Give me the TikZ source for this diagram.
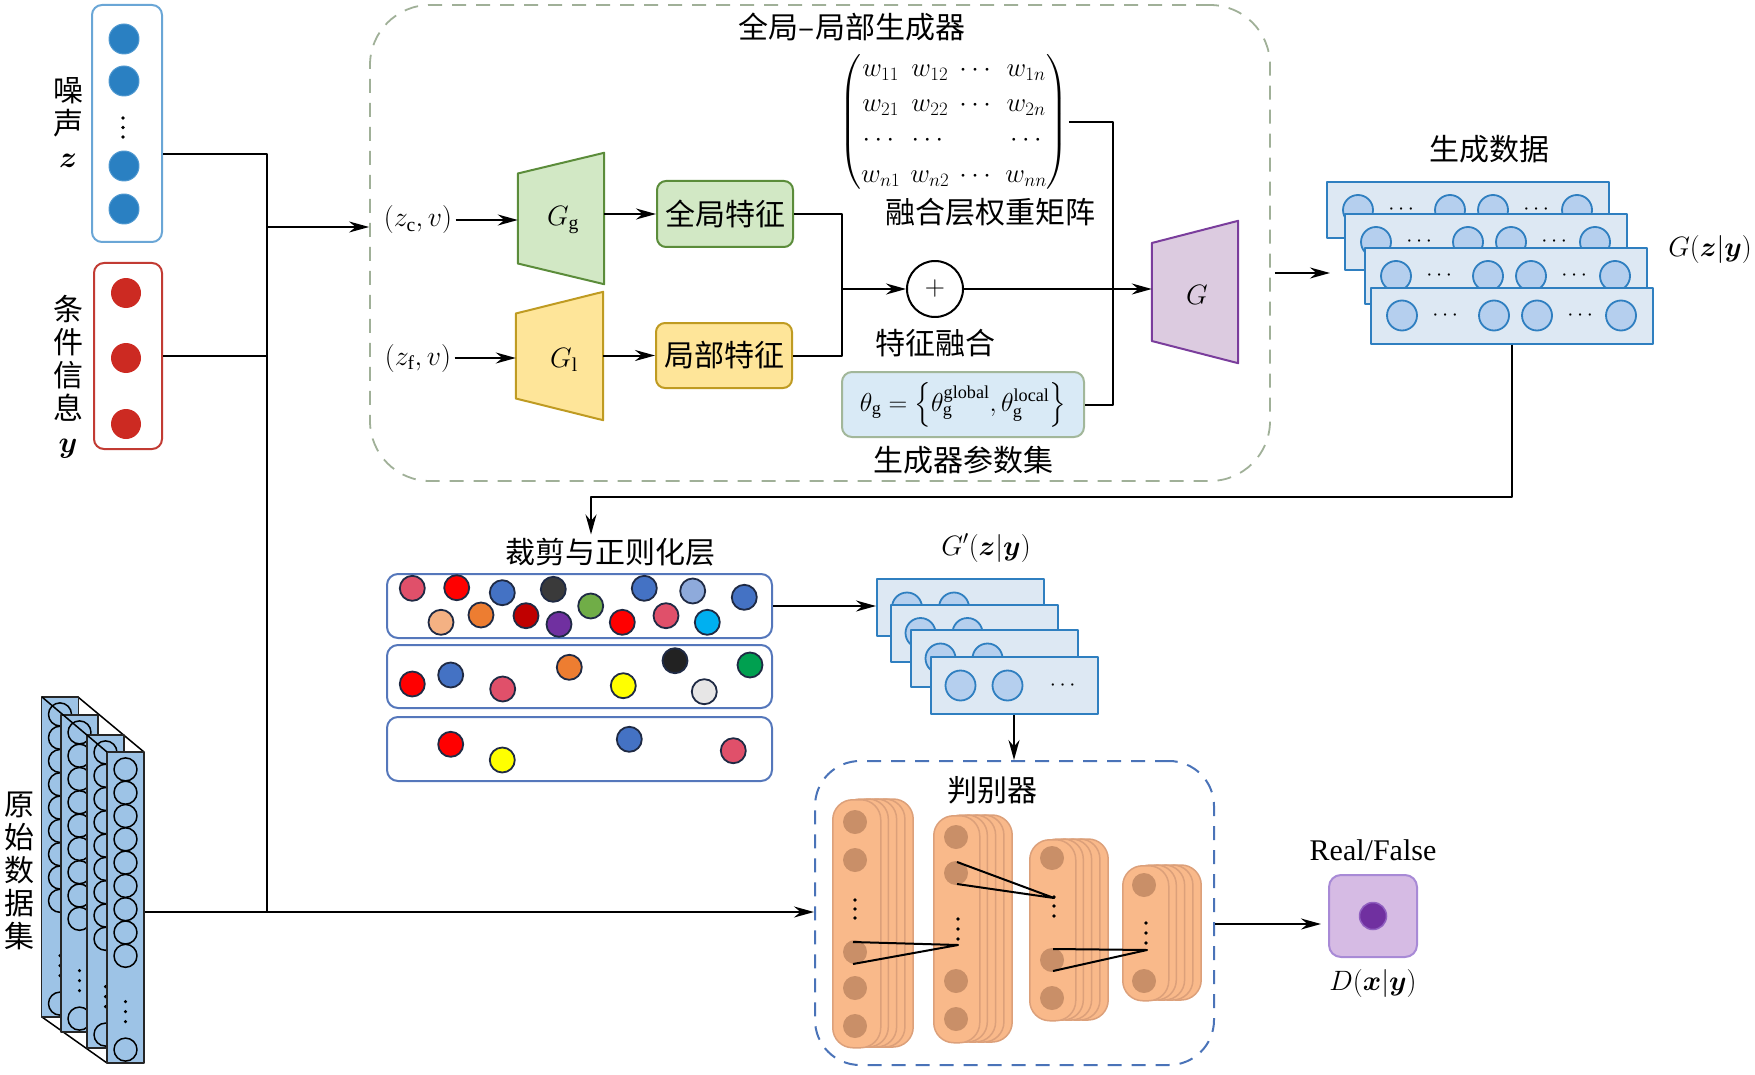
\RequirePackage{fix-cm}
\documentclass[tikz,border=0pt]{standalone}
\usepackage{amsmath,bm}
\usepackage{fontspec}
\setmainfont{Liberation Serif}
\newfontfamily\cjk{Noto Sans CJK SC}
\usetikzlibrary{arrows.meta,calc}
\definecolor{nblue}{HTML}{6AA6D6}
\definecolor{ncfill}{HTML}{2A80C2}
\definecolor{ncdraw}{HTML}{4F98D0}
\definecolor{credb}{HTML}{C23B33}
\definecolor{ccfill}{HTML}{CC2A22}
\definecolor{dfill}{HTML}{9DC3E6}
\definecolor{ggfill}{HTML}{D2E8C5}
\definecolor{ggdraw}{HTML}{5B8C3A}
\definecolor{glfill}{HTML}{FEE599}
\definecolor{gldraw}{HTML}{BF9B22}
\definecolor{gfill}{HTML}{DCCBE0}
\definecolor{gdraw}{HTML}{7A3D9C}
\definecolor{thfill}{HTML}{D9EAF6}
\definecolor{thdraw}{HTML}{A2B79A}
\definecolor{gendash}{HTML}{A0B098}
\definecolor{sfill}{HTML}{DDE8F3}
\definecolor{sdraw}{HTML}{2F7FC0}
\definecolor{scfill}{HTML}{B5CFEE}
\definecolor{clipb}{HTML}{5577BB}
\definecolor{cnavy}{HTML}{1F2A44}
\definecolor{ofill}{HTML}{F9B98A}
\definecolor{odraw}{HTML}{DCA07A}
\definecolor{ocfill}{HTML}{C98F68}
\definecolor{discd}{HTML}{4A73B8}
\definecolor{dbfill}{HTML}{D6BBE4}
\definecolor{dbdraw}{HTML}{A88AD6}
\definecolor{dpurple}{HTML}{7030A0}
\definecolor{dpurple2}{HTML}{9060C0}
\definecolor{cpink}{HTML}{E0506A}
\definecolor{cred}{HTML}{FF0000}
\definecolor{cblue}{HTML}{4472C4}
\definecolor{cdark}{HTML}{3A3A3A}
\definecolor{clblue}{HTML}{8EAADB}
\definecolor{cpeach}{HTML}{F4B183}
\definecolor{corange}{HTML}{ED7D31}
\definecolor{cdred}{HTML}{C00000}
\definecolor{cpurple}{HTML}{7030A0}
\definecolor{cgreen}{HTML}{70AD47}
\definecolor{ccyan}{HTML}{00B0F0}
\definecolor{cyellow}{HTML}{FFFF00}
\definecolor{cblack}{HTML}{222222}
\definecolor{clgray}{HTML}{E7E6E6}
\definecolor{cgreentwo}{HTML}{00A050}
\newcommand{\srow}[3]{%
  \node[srect] (#1) at (#2,#3) {};
  \foreach \dx in {32,124,167,251} \node[scirc] at ($(#1.west)+(\dx,0)$) {};
  \foreach \dx in {77,212} \node[dotsf] at ($(#1.west)+(\dx,0)$) {$\cdots$};}
\newcommand{\grow}[3]{%
  \node[grect] (#1) at (#2,#3) {};
  \foreach \dx in {31,78} \node[scirc] at ($(#1.west)+(\dx,0)$) {};
  \node[dotsf] at ($(#1.west)+(135,0)$) {$\cdots$};}
\newcommand{\dlayer}[5]{%
  \foreach \k in {4,3,2,1} \draw[orect] (#2+8.3*\k,#3) rectangle ++(#4,#5);
  \node[orect, minimum width=#4pt, minimum height=#5pt, anchor=north west] (#1) at (#2,#3) {};}
\begin{document}
\begin{tikzpicture}[x=1pt,y=-1pt,line join=round,
  arr/.style={line width=2pt,-{Stealth[length=20pt,width=11pt]}},
  ln/.style={line width=2pt},
  cjkf/.style={font=\cjk\fontsize{30}{33}\selectfont},
  mathf/.style={font=\fontsize{28}{30}\selectfont},
  dotsf/.style={font=\fontsize{22}{24}\selectfont,inner sep=0},
  noisebox/.style={draw=nblue,line width=2pt,rounded corners=10pt,inner sep=0},
  ncirc/.style={circle,fill=ncfill,draw=ncdraw,line width=1pt,minimum size=30pt,inner sep=0},
  condbox/.style={draw=credb,line width=2pt,rounded corners=10pt,inner sep=0},
  ccirc/.style={circle,fill=ccfill,minimum size=30pt,inner sep=0},
  drect/.style={rectangle,fill=dfill,draw=black!85,line width=1.2pt,minimum width=37pt,inner sep=0},
  dcirc/.style={circle,draw=black,line width=1.5pt,minimum size=23pt,inner sep=0},
  trapbox/.style={inner sep=0},
  trapg/.style={fill=ggfill,draw=ggdraw,line width=2pt},
  trapl/.style={fill=glfill,draw=gldraw,line width=2pt},
  trapG/.style={fill=gfill,draw=gdraw,line width=2pt},
  gfbox/.style={rounded corners=9pt,fill=ggfill,draw=ggdraw,line width=2pt,inner sep=0,cjkf},
  lfbox/.style={rounded corners=9pt,fill=glfill,draw=gldraw,line width=2pt,inner sep=0,cjkf},
  thbox/.style={rounded corners=10pt,fill=thfill,draw=thdraw,line width=2pt,inner sep=0},
  genbox/.style={draw=gendash,line width=1.8pt,dash pattern=on 14pt off 10pt,rounded corners=60pt},
  srect/.style={rectangle,fill=sfill,draw=sdraw,line width=2pt,minimum width=282pt,minimum height=56pt,inner sep=0},
  grect/.style={rectangle,fill=sfill,draw=sdraw,line width=2pt,minimum width=167pt,minimum height=57pt,inner sep=0},
  scirc/.style={circle,fill=scfill,draw=sdraw,line width=1.8pt,minimum size=30pt,inner sep=0},
  clipbox/.style={rounded corners=11pt,draw=clipb,line width=2pt,minimum width=385pt,minimum height=64pt,inner sep=0},
  ccol/.style={circle,draw=cnavy,line width=1.8pt,minimum size=25pt,inner sep=0},
  orect/.style={fill=ofill,draw=odraw,line width=1.5pt,rounded corners=20pt,inner sep=0},
  ocirc/.style={circle,fill=ocfill,minimum size=24pt,inner sep=0},
  discbox/.style={draw=discd,line width=2pt,dash pattern=on 14pt off 10pt,rounded corners=45pt},
  dbox/.style={fill=dbfill,draw=dbdraw,line width=2pt,rounded corners=12pt,inner sep=0}
]
\useasboundingbox (0,0) rectangle (1755,1075);

% ---------- generator frame ----------
\node[genbox, minimum width=900pt, minimum height=476pt] (gen) at (820,243) {};
\node[cjkf, inner sep=1pt] (gentitle) at (852,27) {全局–局部生成器};

% ---------- noise ----------
\node[noisebox, minimum width=70pt, minimum height=237pt] (noise) at (127,123.5) {};
\foreach \y [count=\i] in {39,81,166,209} \node[ncirc] (nc\i) at (124,\y) {};
\foreach \y in {118,127.5,137} \fill (123,\y) circle[radius=1.8pt];
\node[cjkf, align=center] (noiselab) at (68,123) {噪\\声\\$\bm z$};

% ---------- condition ----------
\node[condbox, minimum width=68pt, minimum height=186pt] (cond) at (128,356) {};
\foreach \y [count=\i] in {293,358,424} \node[ccirc] (cc\i) at (126,\y) {};
\node[cjkf, align=center] (condlab) at (68,377) {条\\件\\信\\息\\$\bm y$};

% ---------- dataset ----------
\coordinate (d1nw) at (42,697); \coordinate (d1ne) at (78,697);
\coordinate (d1sw) at (42,1017); \coordinate (d1se) at (78,1017);
\coordinate (d4nw) at (107,752); \coordinate (d4ne) at (144,752);
\coordinate (d4sw) at (107,1063); \coordinate (d4se) at (144,1063);
\draw[line width=1.5pt] (d1ne) -- (d4ne) (d1sw) -- (d4sw) (d1se) -- (d4se);
\foreach \n/\cx/\cy/\h in {d1/60/857/320, d2/79.5/873.5/317, d3/105.5/891.5/313, d4/125.5/907.5/311} {
  \node[drect, minimum height=\h] (\n) at (\cx,\cy) {};
  \foreach \k in {0,...,8} \node[dcirc] at ($(\n.north)+(0,18+23.3*\k)$) {};
  \foreach \dy in {62,52,42} \fill ($(\n.south)+(0,-\dy)$) circle[radius=1.7pt];
  \node[dcirc] at ($(\n.south)+(0,-14)$) {};
}
\draw[line width=1.5pt] (d1nw) -- (d4nw);
\node[cjkf, align=center] (datalab) at (20,871) {原\\始\\数\\据\\集};

% ---------- inputs and trapezoids ----------
\node[mathf] (zc) at (418,220) {$(z_{\mathrm{c}},v)$};
\node[mathf] (zf) at (418,358) {$(z_{\mathrm{f}},v)$};

\node[trapbox, minimum width=86pt, minimum height=131pt] (GgB) at (561,218.5) {};
\draw[trapg] ($(GgB.west)+(0,-45)$) -- (GgB.north east) -- (GgB.south east) -- ($(GgB.west)+(0,45)$) -- cycle;
\node[mathf] (Gg) at (563,220) {$G_{\mathrm{g}}$};

\node[trapbox, minimum width=87pt, minimum height=128pt] (GlB) at (559.5,356) {};
\draw[trapl] ($(GlB.west)+(0,-42.5)$) -- (GlB.north east) -- (GlB.south east) -- ($(GlB.west)+(0,42.5)$) -- cycle;
\node[mathf] (Gl) at (564,360) {$G_{\mathrm{l}}$};

\node[trapbox, minimum width=86pt, minimum height=142pt] (GB) at (1195,292) {};
\draw[trapG] ($(GB.west)+(0,-49)$) -- (GB.north east) -- (GB.south east) -- ($(GB.west)+(0,49)$) -- cycle;
\node[mathf] (G) at (1197,295) {$G$};

% ---------- features ----------
\node[gfbox, minimum width=136pt, minimum height=66pt] (gf) at (725,214) {全局特征};
\node[lfbox, minimum width=136pt, minimum height=65pt] (lf) at (724,355.5) {局部特征};
\node[circle, draw, line width=2pt, minimum size=56pt, inner sep=0, font=\fontsize{28}{30}\selectfont] (plus) at (935,289) {$+$};
\node[cjkf] (fuselab) at (935,343) {特征融合};

% ---------- matrix ----------
\node[font=\fontsize{27}{29}\selectfont, inner sep=0] (W) at (954,122) {\delimiterfactor=780 \delimitershortfall=14pt\renewcommand{\arraystretch}{1.22}$\left(\begin{matrix} w_{11} & w_{12} & \cdots & w_{1n}\\ w_{21} & w_{22} & \cdots & w_{2n}\\ \cdots & \cdots & & \cdots\\ w_{n1} & w_{n2} & \cdots & w_{nn}\end{matrix}\right)$};
\node[cjkf] (Wlab) at (990,212) {融合层权重矩阵};

% ---------- theta ----------
\node[thbox, minimum width=242pt, minimum height=65pt, font=\fontsize{26}{28}\selectfont] (theta) at (963,404.5) {$\theta_{\mathrm{g}}=\left\{\theta_{\mathrm{g}}^{\mathrm{global}},\theta_{\mathrm{g}}^{\mathrm{local}}\right\}$};
\node[cjkf] (thlab) at (963,460) {生成器参数集};

% ---------- generated data stack ----------
\srow{s1}{1468}{210}
\srow{s2}{1486}{242}
\srow{s3}{1506}{276}
\srow{s4}{1512}{315.5}
\node[cjkf] (slab) at (1489,149) {生成数据};
\node[mathf] (Gzy) at (1710,250) {$G(\bm z|\bm y)$};

% ---------- clipping layer ----------
\node[cjkf] (cliplab) at (610,552) {裁剪与正则化层};
\node[clipbox] (b1) at (579.5,606) {};
\node[clipbox, minimum height=63pt] (b2) at (579.5,676.5) {};
\node[clipbox] (b3) at (579.5,749) {};
\foreach \x/\y/\c in {412.3/588.3/cpink, 456.7/587.7/cred, 502.3/592.7/cblue, 553.3/589.3/cdark, 644.3/588.3/cblue, 692.7/591/clblue, 744.3/597.3/cblue, 441/622.3/cpeach, 481/615/corange, 526/615.7/cdred, 559/624.3/cpurple, 590.7/606/cgreen, 622.3/622.3/cred, 666/615.7/cpink, 707.3/622.3/ccyan,
  412.3/684/cred, 450.7/675/cblue, 502.7/689/cpink, 569.3/667.3/corange, 623.3/685.7/cyellow, 675/660.7/cblack, 704.3/691.7/clgray, 750/665/cgreentwo,
  450.7/744.3/cred, 502.3/760/cyellow, 629.3/739.3/cblue, 733.3/750.7/cpink}
  \node[ccol, fill=\c] at (\x,\y) {};

% ---------- G' stack ----------
\grow{g1}{960.5}{607.5}
\grow{g2}{974}{633}
\grow{g3}{994}{658.5}
\grow{g4}{1014}{685.5}
\node[mathf] (Gpzy) at (986,548) {$G'(\bm z|\bm y)$};

% ---------- discriminator ----------
\node[discbox, minimum width=399pt, minimum height=304pt] (disc) at (1014.5,913) {};
\node[cjkf] (disclab) at (992,790) {判别器};
\dlayer{L1}{832}{799}{48}{248}
\dlayer{L2}{933}{815}{46}{227}
\dlayer{L3}{1029}{839}{46}{181}
\dlayer{L4}{1122}{865}{46}{135}
\foreach \y in {822,860,952,988,1026} \node[ocirc] at (855,\y) {};
\foreach \y in {837,873,981,1019} \node[ocirc] at (956,\y) {};
\foreach \y in {858,960,998} \node[ocirc] at (1052,\y) {};
\foreach \y in {885,981} \node[ocirc] at (1144,\y) {};
\foreach \y in {900,909,918} \fill (855,\y) circle[radius=1.8pt];
\foreach \y in {919,929,939} \fill (958,\y) circle[radius=1.8pt];
\foreach \y in {897,906,916} \fill (1054,\y) circle[radius=1.8pt];
\foreach \y in {923,933,943} \fill (1146,\y) circle[radius=1.8pt];
\draw[line width=2pt] (853,942) -- (958,945) -- (853,964);
\draw[line width=2pt] (957,862) -- (1054,898) -- (957,884);
\draw[line width=2pt] (1053,949) -- (1147,950) -- (1053,971);

% ---------- output ----------
\node[font=\fontsize{30}{32}\selectfont] (rf) at (1373,850) {Real/False};
\node[dbox, minimum width=88pt, minimum height=82pt] (D) at (1373,916) {};
\node[circle, fill=dpurple, draw=dpurple2, line width=1.5pt, minimum size=27pt, inner sep=0] (Ddot) at (D.center) {};
\node[mathf] (Dlab) at (1373,983) {$D(\bm x|\bm y)$};

% ---------- connectors ----------
\coordinate (zout) at ($(noise.east)+(0,30.5)$);
\coordinate (bus) at (267,912);
\coordinate (j1) at (267,227);
\draw[ln] (zout) -| (bus);
\draw[ln] (cond.east) -- (cond.east -| bus);
\draw[arr] (j1) -- (j1 -| gen.west);
\draw[arr] (d4.east |- bus) -- (disc.west |- bus);

\coordinate (jf) at (842,289);
\coordinate (jm) at (1113,289);
\draw[arr] (zc.east) -- (zc.east -| GgB.west);
\draw[arr] (zf.east) -- (zf.east -| GlB.west);
\draw[arr] (GgB.east |- gf.west) -- (gf.west);
\draw[arr] (GlB.east |- lf.west) -- (lf.west);
\draw[ln] (gf.east) -| (jf);
\draw[ln] (lf.east) -| (jf);
\draw[arr] (jf) -- (plus.west);
\draw[arr] (plus.east) -- (plus.east -| GB.west);
\draw[ln] (W.east) -| (jm |- theta.east) -- (theta.east);

\coordinate (gin) at (1330,273);
\draw[arr] ($(gen.east |- gin)+(4,0)$) -- (gin);

\coordinate (turn) at (591,497);
\draw[arr] (s4.south) |- (turn) -- (turn |- cliplab.north);
\draw[arr] (b1.east) -- (b1.east -| g1.west);
\draw[arr] (g4.south) -- (g4.south |- disc.north);
\draw[arr] ($(disc.east)+(0,11)$) -- ($(D.west)+(-7,8)$);
\end{tikzpicture}
\end{document}
